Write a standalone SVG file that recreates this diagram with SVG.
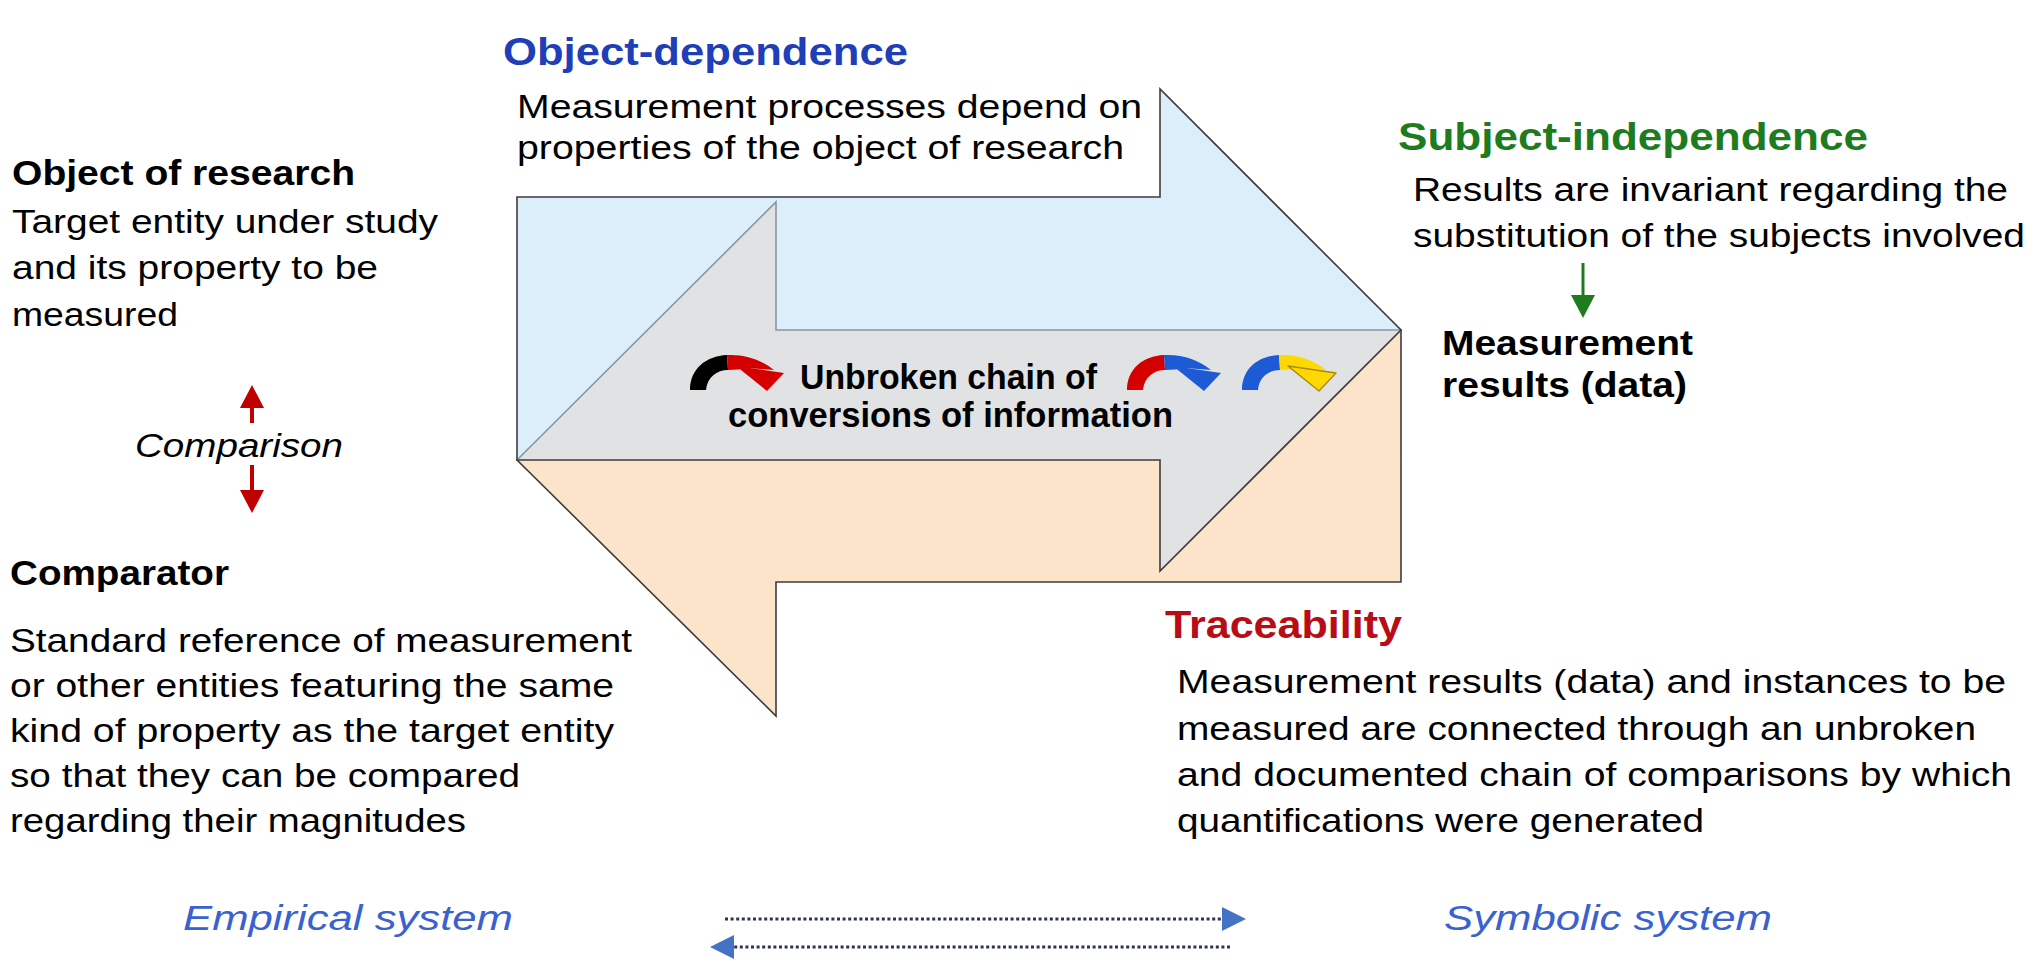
<svg xmlns="http://www.w3.org/2000/svg" width="2037" height="966" viewBox="0 0 2037 966">
<style>
  text { font-family: "Liberation Sans", Arial, sans-serif; fill: #000; }
  .b { font-weight: bold; }
  .it { font-style: italic; }
  .body { font-size: 33px; }
  .hd { font-size: 39px; font-weight: bold; }
  .sub { font-size: 35px; font-weight: bold; }
  .sys { font-size: 35px; font-style: italic; fill: #3A62CF; }
  .chain { font-size: 35px; font-weight: bold; }
  .outline { fill: none; stroke: #3C3C3C; stroke-width: 1.6; stroke-linejoin: miter; }
  .inner { fill: none; stroke: #8A95A2; stroke-width: 1.6; }
  .dots { stroke: #2B3550; stroke-width: 3.2; stroke-dasharray: 3 2.6; fill: none; }
</style>
<defs>
  <marker id="redHead" markerUnits="userSpaceOnUse" viewBox="0 0 23 24" refX="0" refY="12" markerWidth="23" markerHeight="24" orient="auto">
    <path d="M0,0 L23,12 L0,24 Z" fill="#C00000"/>
  </marker>
  <marker id="greenHead" markerUnits="userSpaceOnUse" viewBox="0 0 23 24" refX="0" refY="12" markerWidth="23" markerHeight="24" orient="auto">
    <path d="M0,0 L23,12 L0,24 Z" fill="#1E7B1E"/>
  </marker>
  <marker id="blueHead" markerUnits="userSpaceOnUse" viewBox="0 0 24 24" refX="0" refY="12" markerWidth="24" markerHeight="24" orient="auto">
    <path d="M0,0 L24,12 L0,24 Z" fill="#4472C4"/>
  </marker>
  <path id="bandA" d="M0,34 C0,13 16,0 37,-1 L38,14 C27,14 17,21 16,34 Z"/>
  <path id="bandB" d="M37,-1 C55,-2 72,4 84,14 L58,12 C52,13 45,14 38,14 Z"/>
  <path id="headB" d="M46,10 L94,17 L77,35 Z"/>
</defs>
<rect x="0" y="0" width="2037" height="966" fill="#FFFFFF"/>

<g id="central-arrows">
  <polygon points="517,460 776,202 776,330 1401,330 1401,582 776,582 776,716" fill="#FCE4CB" stroke="#3C3C3C" stroke-width="1.6"/>
  <polygon points="517,197 1160,197 1160,89 1401,330 1160,571 1160,460 517,460" fill="#DDEEFB"/>
  <polygon points="517,460 776,202 776,330 1401,330 1160,571 1160,460" fill="#E1E2E4"/>
  <polyline class="inner" points="517,460 776,202 776,330 1401,330"/>
  <polygon class="outline" points="517,197 1160,197 1160,89 1401,330 1160,571 1160,460 517,460"/>
</g>

<g id="object-dependence">
  <text class="hd" x="503" y="65" style="fill:#1F3FB8" textLength="405" lengthAdjust="spacingAndGlyphs">Object-dependence</text>
  <text class="body" x="517" y="118" textLength="625" lengthAdjust="spacingAndGlyphs">Measurement processes depend on</text>
  <text class="body" x="517" y="159" textLength="607" lengthAdjust="spacingAndGlyphs">properties of the object of research</text>
</g>

<g id="object-of-research">
  <text class="sub" x="12" y="185" textLength="343" lengthAdjust="spacingAndGlyphs">Object of research</text>
  <text class="body" x="12" y="233" textLength="426" lengthAdjust="spacingAndGlyphs">Target entity under study</text>
  <text class="body" x="12" y="279" textLength="366" lengthAdjust="spacingAndGlyphs">and its property to be</text>
  <text class="body" x="12" y="326" textLength="166" lengthAdjust="spacingAndGlyphs">measured</text>
</g>

<g id="comparator">
  <text class="sub" x="10" y="585" textLength="219" lengthAdjust="spacingAndGlyphs">Comparator</text>
  <text class="body" x="10" y="652" textLength="622" lengthAdjust="spacingAndGlyphs">Standard reference of measurement</text>
  <text class="body" x="10" y="697" textLength="604" lengthAdjust="spacingAndGlyphs">or other entities featuring the same</text>
  <text class="body" x="10" y="742" textLength="604" lengthAdjust="spacingAndGlyphs">kind of property as the target entity</text>
  <text class="body" x="10" y="787" textLength="510" lengthAdjust="spacingAndGlyphs">so that they can be compared</text>
  <text class="body" x="10" y="832" textLength="456" lengthAdjust="spacingAndGlyphs">regarding their magnitudes</text>
</g>

<g id="chain">
  <g transform="translate(690,356)">
    <use href="#bandA" fill="#000000"/>
    <use href="#bandB" fill="#D40000"/>
    <use href="#headB" fill="#D40000"/>
  </g>
  <g transform="translate(1127,356)">
    <use href="#bandA" fill="#D40000"/>
    <use href="#bandB" fill="#1C5AD6"/>
    <use href="#headB" fill="#1C5AD6"/>
  </g>
  <g transform="translate(1242,356)">
    <use href="#bandA" fill="#1C5AD6"/>
    <use href="#bandB" fill="#FFD800"/>
    <use href="#headB" fill="#FFD800" stroke="#A88A00" stroke-width="1.3" stroke-linejoin="round"/>
  </g>
  <text class="chain" x="800" y="389" textLength="297" lengthAdjust="spacingAndGlyphs">Unbroken chain of</text>
  <text class="chain" x="728" y="427" textLength="445" lengthAdjust="spacingAndGlyphs">conversions of information</text>
</g>

<g id="subject-independence">
  <text class="hd" x="1398" y="150" style="fill:#1E7B1E" textLength="470" lengthAdjust="spacingAndGlyphs">Subject-independence</text>
  <text class="body" x="1413" y="201" textLength="595" lengthAdjust="spacingAndGlyphs">Results are invariant regarding the</text>
  <text class="body" x="1413" y="247" textLength="612" lengthAdjust="spacingAndGlyphs">substitution of the subjects involved</text>
</g>

<g id="measurement-results">
  <text class="sub" x="1442" y="355" textLength="251" lengthAdjust="spacingAndGlyphs">Measurement</text>
  <text class="sub" x="1442" y="397" textLength="245" lengthAdjust="spacingAndGlyphs">results (data)</text>
</g>

<g id="traceability">
  <text class="hd" x="1165" y="638" style="fill:#B80D14" textLength="237" lengthAdjust="spacingAndGlyphs">Traceability</text>
  <text class="body" x="1177" y="693" textLength="829" lengthAdjust="spacingAndGlyphs">Measurement results (data) and instances to be</text>
  <text class="body" x="1177" y="740" textLength="799" lengthAdjust="spacingAndGlyphs">measured are connected through an unbroken</text>
  <text class="body" x="1177" y="786" textLength="835" lengthAdjust="spacingAndGlyphs">and documented chain of comparisons by which</text>
  <text class="body" x="1177" y="832" textLength="527" lengthAdjust="spacingAndGlyphs">quantifications were generated</text>
</g>

<g id="empirical-system">
  <text class="sys" x="183" y="930" textLength="330" lengthAdjust="spacingAndGlyphs">Empirical system</text>
</g>

<g id="symbolic-system">
  <text class="sys" x="1444" y="930" textLength="328" lengthAdjust="spacingAndGlyphs">Symbolic system</text>
</g>

<g id="connectors">
  <line x1="252" y1="423" x2="252" y2="408" stroke="#C00000" stroke-width="4" marker-end="url(#redHead)"/>
  <text class="body it" x="135" y="457" textLength="208" lengthAdjust="spacingAndGlyphs">Comparison</text>
  <line x1="252" y1="465" x2="252" y2="490" stroke="#C00000" stroke-width="4" marker-end="url(#redHead)"/>
  <line x1="1583" y1="263" x2="1583" y2="295" stroke="#1E7B1E" stroke-width="3" marker-end="url(#greenHead)"/>
  <line class="dots" x1="725" y1="919" x2="1222" y2="919" marker-end="url(#blueHead)"/>
  <line class="dots" x1="1230" y1="947" x2="734" y2="947" marker-end="url(#blueHead)"/>
</g>
</svg>
